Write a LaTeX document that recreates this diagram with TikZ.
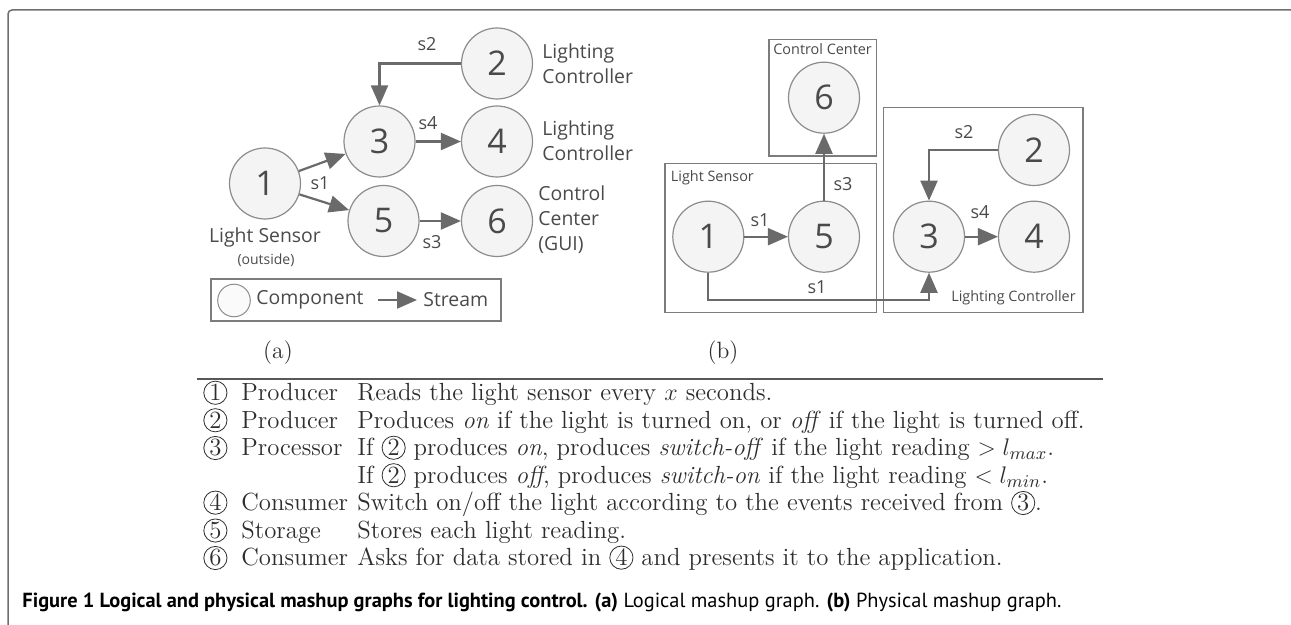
\documentclass[tikz,border=0pt]{standalone}
\usepackage{fontspec}
\newfontfamily\lblfont{Open Sans}
\newfontfamily\capfont{PT Sans}
\usetikzlibrary{arrows.meta}

\definecolor{edgegray}{HTML}{6A6A6A}
\definecolor{ringgray}{HTML}{8C8C8C}
\definecolor{fillgray}{HTML}{F4F4F4}
\definecolor{txtgray}{HTML}{4A4A4A}
\definecolor{boxgray}{HTML}{7C7C7C}
\definecolor{framegray}{HTML}{6E6E6E}
\definecolor{tabtext}{HTML}{2E2E2E}

% circled number used inside the table text
\newcommand\cnum[1]{\tikz[baseline=(cn.base)]\node[circle,draw=tabtext,inner sep=0pt,minimum size=11.6pt,line width=0.4pt,anchor=center](cn){#1};}

\tikzset{
  comp/.style={circle, draw=ringgray, fill=fillgray, line width=0.6pt,
    minimum size=35.5pt, inner sep=0pt, text=txtgray,
    font=\lblfont\fontsize{17}{17}\selectfont},
  stream/.style={draw=edgegray, line width=1.1pt,
    -{Triangle[length=10pt,width=8.5pt]}},
  lbl/.style={font=\lblfont\fontsize{9.7}{12.5}\selectfont, text=txtgray, inner sep=0pt},
  slbl/.style={font=\lblfont\fontsize{9}{10}\selectfont, text=txtgray, inner sep=0pt},
  glbl/.style={font=\lblfont\fontsize{7.2}{8}\selectfont, text=txtgray, inner sep=0pt},
  grpbox/.style={draw=boxgray, line width=0.6pt, inner sep=0pt, anchor=north west},
  trow/.style={font=\fontsize{12.4}{14}\selectfont, text=tabtext, inner sep=0pt, anchor=base west},
  sublbl/.style={font=\fontsize{11.8}{12}\selectfont, text=tabtext, inner sep=0pt},
}

\begin{document}
\begin{tikzpicture}[x=0.5pt,y=-0.5pt]
\useasboundingbox (0,0) rectangle (1291,625);

% figure frame
\draw[framegray, line width=0.75pt, rounded corners=2pt] (1291,10) -- (8,10) -- (8,625);

% ---------- (a) logical mashup graph ----------
\node[comp] (a1) at (265,183.5) {1};
\node[comp] (a2) at (497,63.5) {2};
\node[comp] (a3) at (379.5,141.5) {3};
\node[comp] (a4) at (497,141.5) {4};
\node[comp] (a5) at (383.5,221) {5};
\node[comp] (a6) at (497,221) {6};

\draw[stream] (a2.west) -| (a3.north);
\draw[stream] (a3.east) -- (a4.west);
\draw[stream] (a1) -- (a3);
\draw[stream] (a1) -- (a5);
\draw[stream] (a5.east) -- (a6.west);

\node[slbl] (as2) at (427,44) {s2};
\node[slbl] (as4) at (428,123) {s4};
\node[slbl] (as1) at (320,183) {s1};
\node[slbl] (as3) at (432,242) {s3};

\node[lbl, align=left, anchor=west] (alc2) at (542,64) {Lighting\\Controller};
\node[lbl, align=left, anchor=west] (alc4) at (542,141) {Lighting\\Controller};
\node[lbl, align=left, anchor=west] (acc6) at (538,220) {Control\\Center\\(GUI)};
\node[lbl] (als) at (265,237) {Light Sensor};
\node[font=\lblfont\fontsize{7}{8}\selectfont, text=txtgray, inner sep=0pt] (alo) at (266,260) {(outside)};

% legend
\node[draw=boxgray, line width=0.6pt, minimum width=145pt, minimum height=21pt, inner sep=0pt] (leg) at (356,300) {};
\node[circle, draw=ringgray, fill=fillgray!50, line width=0.5pt, minimum size=16.3pt, inner sep=0pt] (legc) at (234,300.5) {};
\node[lbl, anchor=west] (legct) at (256,300) {Component};
\coordinate (legs) at (378,300);
\coordinate (lege) at (417,300);
\draw[stream] (legs) -- (lege);
\node[lbl, anchor=west] (legst) at (423,300) {Stream};

\node[sublbl] (capa) at (278,353) {(a)};

% ---------- (b) physical mashup graph ----------
\node[grpbox, minimum width=53.7pt, minimum height=58.2pt] (gcc) at (768.3,39) {};
\node[grpbox, minimum width=105.7pt, minimum height=74.2pt] (gls) at (664.3,163.3) {};
\node[grpbox, minimum width=99.8pt, minimum height=102.2pt] (glc) at (882.7,107.3) {};
\node[glbl, anchor=west] (tcc) at (773,49) {Control Center};
\node[glbl, anchor=west] (tls) at (670.5,178) {Light Sensor};
\node[glbl, anchor=east] (tlc) at (1076,297.5) {Lighting Controller};

\node[comp] (b6) at (824,97.7) {6};
\node[comp] (b1) at (708.3,236.7) {1};
\node[comp] (b5) at (824,236.7) {5};
\node[comp] (b2) at (1034,150) {2};
\node[comp] (b3) at (929,236.7) {3};
\node[comp] (b4) at (1034,236.7) {4};

\coordinate (s1y) at (0,300);
\draw[stream] (b1) -- (b5);
\draw[stream] (b5) -- (b6);
\draw[stream] (b2.west) -| (b3.north);
\draw[stream] (b3) -- (b4);
\draw[stream] (b1.south) -- (b1.south |- s1y) -| (b3.south);

\node[slbl] (bs1) at (760,220) {s1};
\node[slbl] (bs3) at (843,184) {s3};
\node[slbl] (bs2) at (964,132) {s2};
\node[slbl] (bs4) at (980,212) {s4};
\node[slbl] (bs1b) at (817,287) {s1};

\node[sublbl] (capb) at (723,353) {(b)};

% ---------- component table ----------
\coordinate (rl) at (197,379);
\coordinate (rr) at (1103,379);
\draw[tabtext!80, line width=0.8pt] (rl) -- (rr);

\node[trow] (n1) at (203,401) {\cnum{1}};
\node[trow] (k1) at (241,401) {Producer};
\node[trow] (d1) at (357,401) {Reads the light sensor every $x$ seconds.};

\node[trow] (n2) at (203,428.5) {\cnum{2}};
\node[trow] (k2) at (241,428.5) {Producer};
\node[trow] (d2) at (357,428.5) {Produces \textit{on} if the light is turned on, or \textit{off} if the light is turned off.};

\node[trow] (n3) at (203,456) {\cnum{3}};
\node[trow] (k3) at (241,456) {Processor};
\node[trow] (d3) at (357,456) {If \cnum{2} produces \textit{on}, produces \textit{switch-off} if the light reading $> l_{max}$.};
\node[trow] (d3b) at (357,483.5) {If \cnum{2} produces \textit{off}, produces \textit{switch-on} if the light reading $< l_{min}$.};

\node[trow] (n4) at (203,511) {\cnum{4}};
\node[trow] (k4) at (241,511) {Consumer};
\node[trow] (d4) at (357,511) {Switch on/off the light according to the events received from \cnum{3}.};

\node[trow] (n5) at (203,538.5) {\cnum{5}};
\node[trow] (k5) at (241,538.5) {Storage};
\node[trow] (d5) at (357,538.5) {Stores each light reading.};

\node[trow] (n6) at (203,566) {\cnum{6}};
\node[trow] (k6) at (241,566) {Consumer};
\node[trow] (d6) at (357,566) {Asks for data stored in \cnum{4} and presents it to the application.};

% ---------- caption ----------
\node[anchor=base west, inner sep=0pt, font=\capfont\fontsize{10.2}{12}\selectfont] (cap) at (22,607)
  {\textbf{Figure 1 Logical and physical mashup graphs for lighting control. (a)} Logical mashup graph. \textbf{(b)} Physical mashup graph.};
\end{tikzpicture}
\end{document}
